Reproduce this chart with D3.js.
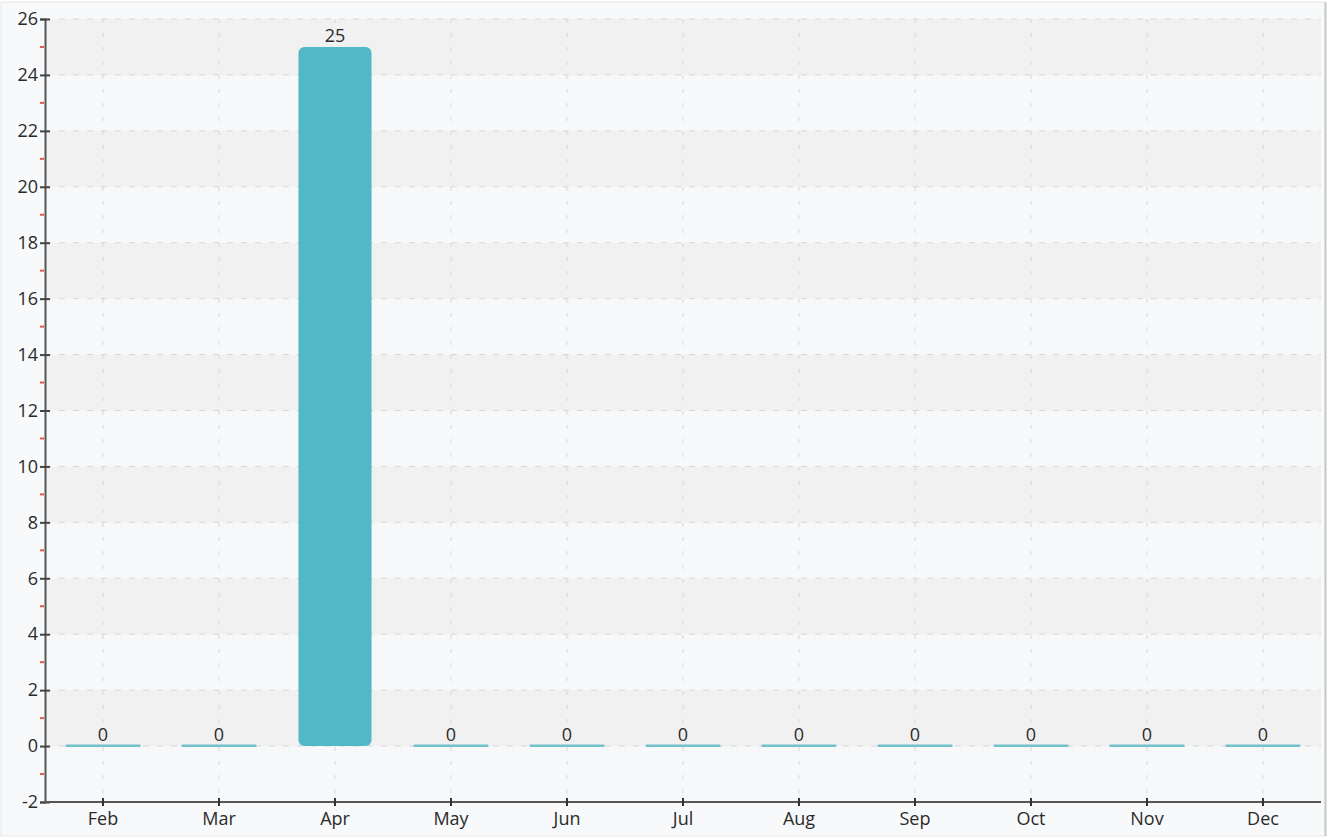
<!DOCTYPE html>
<html>
<head>
<meta charset="utf-8">
<script src="https://cdn.jsdelivr.net/npm/d3@7"></script>
<style>
  html, body { margin: 0; padding: 0; background: #ffffff; }
  svg { display: block; }
  text { font-family: "Open Sans", "DejaVu Sans", sans-serif; }
</style>
</head>
<body>
<svg id="chart" width="1329" height="837"></svg>
<script>
// ---- data ----
const months = ["Feb", "Mar", "Apr", "May", "Jun", "Jul", "Aug", "Sep", "Oct", "Nov", "Dec"];
const values = [0, 0, 25, 0, 0, 0, 0, 0, 0, 0, 0];
const yTicks = [-2, 0, 2, 4, 6, 8, 10, 12, 14, 16, 18, 20, 22, 24, 26];
const yMinorTicks = [-1, 1, 3, 5, 7, 9, 11, 13, 15, 17, 19, 21, 23, 25];

(function () {
// ---- layout ----
const W = 1329, H = 837;
const mLeft = 45, mRight = 1321, mTop = 19, mBottom = 802;
const FS = 18, TXT = "#2b2b2b";

const svg = d3.select("#chart");

const x = d3.scaleBand().domain(months).range([mLeft, mRight]).paddingInner(0.37).paddingOuter(0.185);
const y = d3.scaleLinear().domain([-2, 26]).range([mBottom, mTop]);

// page background / frame
svg.append("rect").attr("x", 0).attr("y", 0).attr("width", W).attr("height", H).attr("fill", "#ffffff");
svg.append("rect").attr("x", 1).attr("y", 2).attr("width", 1324).attr("height", 834)
  .attr("fill", "#f8f9fa").attr("stroke", "#e6e6e6").attr("stroke-width", 1);
svg.append("line").attr("x1", 1325.5).attr("x2", 1325.5).attr("y1", 2).attr("y2", 836)
  .attr("stroke", "#c8c8c8").attr("stroke-width", 2);

// alternating stripes
const bands = yTicks.slice(0, -1).map((t, i) => ({ lo: t, hi: yTicks[i + 1] }));
svg.append("g").selectAll("rect").data(bands).join("rect")
  .attr("x", mLeft).attr("width", mRight - mLeft)
  .attr("y", d => y(d.hi)).attr("height", d => y(d.lo) - y(d.hi))
  .attr("fill", d => (((d.lo % 4) + 4) % 4 === 0) ? "#f1f1f1" : "#f7f8f9");

// horizontal grid
svg.append("g").selectAll("line").data(yTicks.filter(t => t > -2)).join("line")
  .attr("x1", mLeft).attr("x2", mRight)
  .attr("y1", d => y(d)).attr("y2", d => y(d))
  .attr("stroke", "#d6d6d6").attr("stroke-width", 1).attr("stroke-dasharray", "6,8");

// vertical grid
svg.append("g").selectAll("line").data(months).join("line")
  .attr("x1", d => x(d) + x.bandwidth() / 2).attr("x2", d => x(d) + x.bandwidth() / 2)
  .attr("y1", mTop).attr("y2", mBottom)
  .attr("stroke", "#d6d6d6").attr("stroke-width", 1).attr("stroke-dasharray", "4,10");

// bars
const data = months.map((m, i) => ({ m, v: values[i] }));
svg.append("g").selectAll("rect").data(data).join("rect")
  .attr("x", d => x(d.m) + (d.v === 0 ? -1 : 0))
  .attr("width", d => x.bandwidth() + (d.v === 0 ? 2 : 0))
  .attr("y", d => d.v === 0 ? y(0) - 1.5 : y(d.v))
  .attr("height", d => d.v === 0 ? 2.5 : y(0) - y(d.v))
  .attr("rx", d => d.v === 0 ? 1 : 6)
  .attr("fill", d => d.v === 0 ? "#72c1cc" : "#52b7c6");

// value labels
svg.append("g").selectAll("text").data(data).join("text")
  .attr("x", d => x(d.m) + x.bandwidth() / 2)
  .attr("y", d => y(d.v) - 5)
  .attr("text-anchor", "middle")
  .attr("font-size", FS).attr("fill", TXT)
  .text(d => d.v);

// y axis
const yAxis = d3.axisLeft(y).tickValues(yTicks).tickSize(5).tickPadding(2).tickFormat(d => String(d));
const gy = svg.append("g").attr("transform", `translate(${mLeft},0)`).call(yAxis);
gy.select(".domain").attr("stroke", "#555").attr("stroke-width", 2);
gy.selectAll(".tick line").attr("stroke", "#444").attr("stroke-width", 2).attr("x2", -5).attr("x1", 5);
gy.selectAll(".tick text").attr("font-size", FS).attr("fill", TXT)
  .attr("font-family", "\"Open Sans\", \"DejaVu Sans\", sans-serif");

// minor red ticks
svg.append("g").selectAll("line").data(yMinorTicks).join("line")
  .attr("x1", mLeft - 5).attr("x2", mLeft - 1)
  .attr("y1", d => y(d)).attr("y2", d => y(d))
  .attr("stroke", "#e05a4a").attr("stroke-width", 2);

// x axis
const xAxis = d3.axisBottom(x).tickSize(5).tickPadding(5);
const gx = svg.append("g").attr("transform", `translate(0,${mBottom})`).call(xAxis);
gx.select(".domain").attr("stroke", "#555").attr("stroke-width", 2).attr("d", `M${mLeft},0H${mRight}`);
gx.selectAll(".tick line").attr("stroke", "#333").attr("stroke-width", 2).attr("y1", -4).attr("y2", 4);
gx.selectAll(".tick text").attr("font-size", FS).attr("fill", TXT)
  .attr("font-family", "\"Open Sans\", \"DejaVu Sans\", sans-serif");
})();
</script>
</body>
</html>
